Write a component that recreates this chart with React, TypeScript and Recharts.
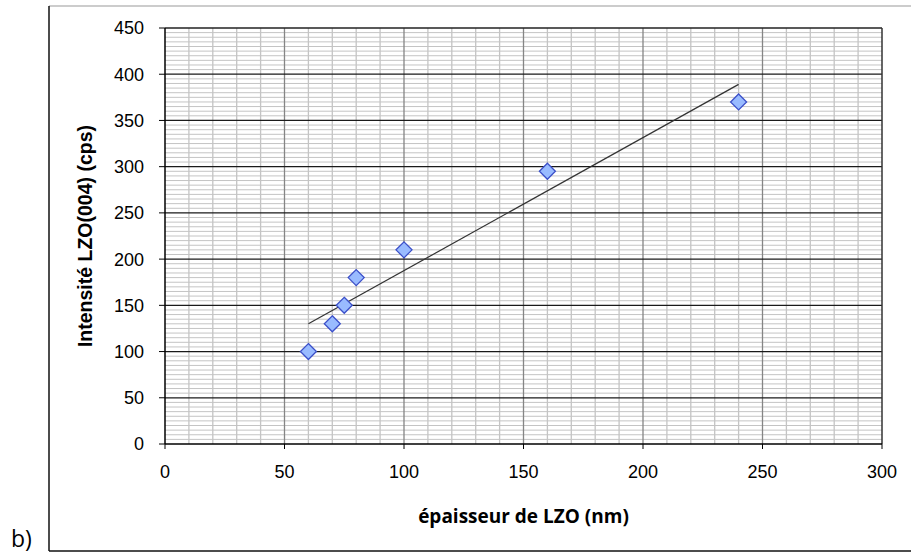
import React from 'react';
import { ScatterChart, Scatter, XAxis, YAxis, ReferenceLine } from 'recharts';

// ---- data ----
const thickness = [60, 70, 75, 80, 100, 160, 240]; // épaisseur de LZO (nm)
const intensity = [100, 130, 150, 180, 210, 295, 370]; // Intensité LZO(004) (cps)
const trendX = [60, 240];
const trendY = [130, 389];
const xTicks = [0, 50, 100, 150, 200, 250, 300];
const yTicks = [0, 50, 100, 150, 200, 250, 300, 350, 400, 450];
const xMinorStep = 10;
const yMinorStep = 5;
const xTitle = 'épaisseur de LZO (nm)';
const yTitle = 'Intensité LZO(004) (cps)';
const panelLabel = 'b)';

const data = thickness.map((x, i) => ({ x, y: intensity[i] }));

const xMax = xTicks[xTicks.length - 1];
const yMax = yTicks[yTicks.length - 1];
const xMinor: number[] = [];
for (let v = xMinorStep; v < xMax; v += xMinorStep) if (!xTicks.includes(v)) xMinor.push(v);
const yMinor: number[] = [];
for (let v = yMinorStep; v < yMax; v += yMinorStep) if (!yTicks.includes(v)) yMinor.push(v);
const xMajor = xTicks.filter((v) => v > 0 && v < xMax);
const yMajor = yTicks.filter((v) => v > 0 && v < yMax);

const SANS = '"Liberation Sans", Arial, sans-serif';
const OPEN = '"Open Sans", "Noto Sans", sans-serif';

const Diamond = (props: any) => {
  const { cx, cy } = props;
  const r = 8;
  return (
    <polygon
      points={`${cx},${cy - r} ${cx + r},${cy} ${cx},${cy + r} ${cx - r},${cy}`}
      fill="#99bbff"
      stroke="#3b4fc9"
      strokeWidth={1.3}
    />
  );
};

const XTick = (props: any) => {
  const { x, y, payload } = props;
  return (
    <text x={x} y={y} dy="0.71em" textAnchor="middle" fontFamily={SANS} fontSize={18} fill="#000">
      {payload.value}
    </text>
  );
};

const YTick = (props: any) => {
  const { x, y, payload } = props;
  return (
    <text x={x} y={y} dy="0.36em" textAnchor="end" fontFamily={SANS} fontSize={18} fill="#000">
      {payload.value}
    </text>
  );
};

export default function App() {
  return (
    <div style={{ position: 'absolute', left: 0, top: 0, width: 911, height: 556, background: '#fff' }}>
      <svg width={911} height={556} style={{ position: 'absolute', left: 0, top: 0 }}>
        <line x1={49} y1={6} x2={911} y2={6} stroke="#9a9a9a" strokeWidth={1.2} />
        <line x1={49} y1={6} x2={49} y2={551} stroke="#111" strokeWidth={1.5} />
        <line x1={49} y1={551} x2={911} y2={551} stroke="#111" strokeWidth={1.5} />
        <text x={11} y={547} fontFamily={OPEN} fontSize={23} fill="#000">
          {panelLabel}
        </text>
      </svg>
      <div style={{ position: 'absolute', left: 0, top: 0 }}>
        <ScatterChart width={911} height={556} margin={{ top: 28, right: 29, bottom: 0, left: 0 }}>
          <XAxis
            type="number"
            dataKey="x"
            domain={[0, xMax]}
            ticks={xTicks}
            interval={0}
            height={112}
            tickSize={5}
            tickMargin={16}
            axisLine={{ stroke: '#000', strokeWidth: 1.5 }}
            tickLine={{ stroke: '#000' }}
            tick={<XTick />}
            label={{
              content: (p: any) => {
                const vb = p.viewBox;
                return (
                  <text
                    x={vb.x + vb.width / 2}
                    y={vb.y + 79}
                    textAnchor="middle"
                    fontFamily={OPEN}
                    fontWeight="bold"
                    fontSize={19}
                    fill="#000"
                  >
                    {xTitle}
                  </text>
                );
              },
            }}
          />
          <YAxis
            type="number"
            dataKey="y"
            domain={[0, yMax]}
            ticks={yTicks}
            interval={0}
            width={165}
            tickSize={6}
            tickMargin={15}
            axisLine={{ stroke: '#000', strokeWidth: 1.5 }}
            tickLine={{ stroke: '#000' }}
            tick={<YTick />}
            label={{
              content: (p: any) => {
                const vb = p.viewBox;
                const cx = 92;
                const cy = vb.y + vb.height / 2;
                return (
                  <text
                    x={cx}
                    y={cy}
                    transform={`rotate(-90, ${cx}, ${cy})`}
                    textAnchor="middle"
                    fontFamily={SANS}
                    fontWeight="bold"
                    fontSize={19.5}
                    fill="#000"
                  >
                    {yTitle}
                  </text>
                );
              },
            }}
          />
          {yMinor.map((v) => (
            <ReferenceLine key={`ym${v}`} y={v} stroke="#c4c4c4" strokeWidth={1} zIndex={-90} />
          ))}
          {xMinor.map((v) => (
            <ReferenceLine key={`xm${v}`} x={v} stroke="#c4c4c4" strokeWidth={1.3} zIndex={-90} />
          ))}
          {xMajor.map((v) => (
            <ReferenceLine key={`xM${v}`} x={v} stroke="#858585" strokeWidth={1.3} zIndex={-80} />
          ))}
          {yMajor.map((v) => (
            <ReferenceLine key={`yM${v}`} y={v} stroke="#1a1a1a" strokeWidth={1.3} zIndex={-80} />
          ))}
          <ReferenceLine y={yMax} stroke="#222" strokeWidth={1.5} zIndex={-70} />
          <ReferenceLine x={xMax} stroke="#333" strokeWidth={1.5} zIndex={-70} />
          <ReferenceLine
            segment={[
              { x: trendX[0], y: trendY[0] },
              { x: trendX[1], y: trendY[1] },
            ]}
            stroke="#333"
            strokeWidth={1.2}
            zIndex={-60}
          />
          <Scatter data={data} shape={<Diamond />} isAnimationActive={false} />
        </ScatterChart>
      </div>
    </div>
  );
}
